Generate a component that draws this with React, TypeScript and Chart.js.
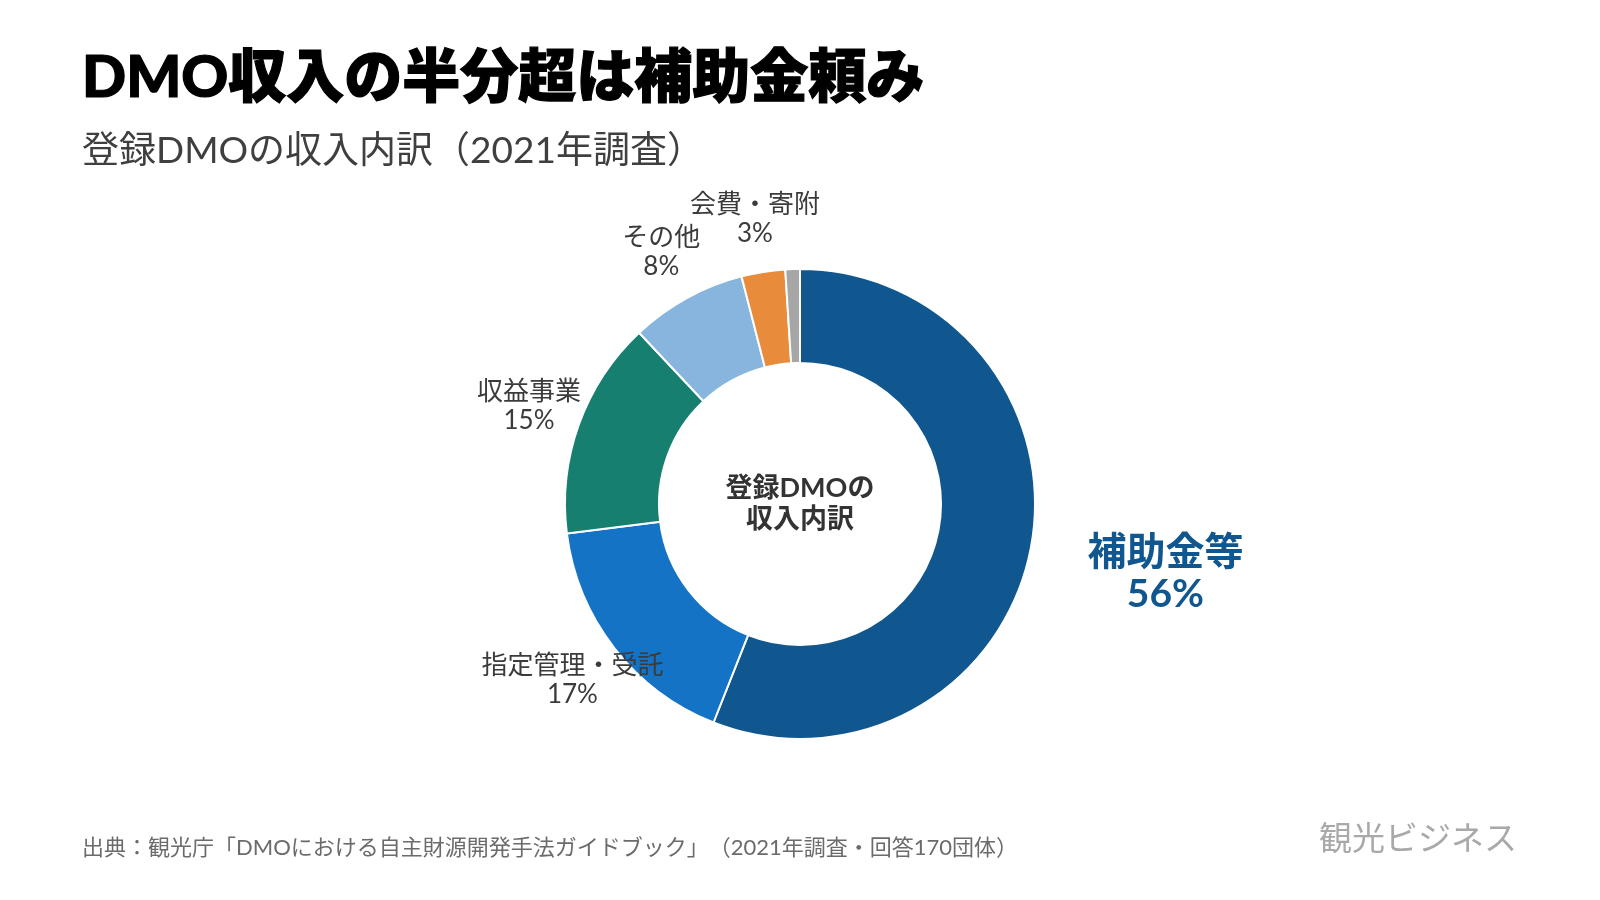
import { useEffect, useRef } from 'react';
import { Chart, registerables } from 'chart.js';

Chart.register(...registerables);

// Revenue categories of registered DMOs and their share of total income (%)
const categories = ['補助金等', '指定管理・受託', '収益事業', 'その他', '会費・寄附', '特定財源'];
const shares = [56, 17, 15, 8, 3, 1];
const sliceColors = ['#10568f', '#1473c4', '#177f6f', '#87b5de', '#e88b3b', '#a6a6a6'];
// Categories drawn without an outside label
const unlabeled = ['特定財源'];
const centerLines = ['登録DMOの', '収入内訳'];

const titleText = 'DMO収入の半分超は補助金頼み';
const subtitleText = '登録DMOの収入内訳（2021年調査）';
const sourceText = '出典：観光庁「DMOにおける自主財源開発手法ガイドブック」（2021年調査・回答170団体）';
const brandText = '観光ビジネス';

const FONT = 'Lato, "Noto Sans CJK JP", sans-serif';

const sliceLabels = {
  id: 'sliceLabels',
  afterDatasetsDraw(chart: any) {
    const ctx = chart.ctx as CanvasRenderingContext2D;
    const meta = chart.getDatasetMeta(0);
    const values = chart.data.datasets[0].data as number[];
    const names = chart.data.labels as string[];
    let cx0 = 0;
    let cy0 = 0;
    meta.data.forEach((arc: any, i: number) => {
      const { x, y, startAngle, endAngle, outerRadius } = arc.getProps(
        ['x', 'y', 'startAngle', 'endAngle', 'outerRadius'],
        true
      );
      cx0 = x;
      cy0 = y;
      const name = names[i];
      if (unlabeled.includes(name)) return;
      const mid = (startAngle + endAngle) / 2;
      const lead = i === 0;
      const dist = outerRadius + (lead ? 137 : 53);
      const lx = x + Math.cos(mid) * dist;
      const ly = y + Math.sin(mid) * dist;
      const gap = lead ? 42 : 29;
      ctx.save();
      ctx.textAlign = 'center';
      ctx.textBaseline = 'middle';
      ctx.fillStyle = lead ? sliceColors[0] : '#3b3b3b';
      ctx.font = lead ? `bold 39px ${FONT}` : `26px ${FONT}`;
      ctx.fillText(name, lx, ly - gap / 2);
      ctx.fillText(`${values[i]}%`, lx, ly + gap / 2);
      ctx.restore();
    });

    // caption inside the ring
    ctx.save();
    ctx.textAlign = 'center';
    ctx.textBaseline = 'middle';
    ctx.fillStyle = '#333333';
    ctx.font = `bold 27px ${FONT}`;
    const lh = 31;
    const top = cy0 - ((centerLines.length - 1) * lh) / 2;
    centerLines.forEach((line, k) => ctx.fillText(line, cx0, top + k * lh));
    ctx.restore();
  },
};

function DonutChart() {
  const ref = useRef<HTMLCanvasElement | null>(null);

  useEffect(() => {
    if (!ref.current) return;
    const chart = new Chart(ref.current, {
      type: 'doughnut',
      data: {
        labels: categories,
        datasets: [
          {
            data: shares,
            backgroundColor: sliceColors,
            borderColor: '#ffffff',
            borderWidth: 2,
          },
        ],
      },
      options: {
        responsive: false,
        animation: false,
        cutout: '60%',
        layout: { padding: { left: 564, right: 564, top: 268, bottom: 160 } },
        plugins: {
          legend: { display: false },
          tooltip: { enabled: false },
          title: { display: false },
        },
      },
      plugins: [sliceLabels],
    });
    return () => chart.destroy();
  }, []);

  return (
    <canvas
      ref={ref}
      width={1600}
      height={900}
      style={{ position: 'absolute', left: 0, top: 0, width: 1600, height: 900 }}
    />
  );
}

const textBase: any = {
  position: 'absolute',
  whiteSpace: 'nowrap',
  lineHeight: 1,
  fontFamily: FONT,
  margin: 0,
  textSpacingTrim: 'space-all',
};

export default function App() {
  return (
    <div
      style={{
        position: 'absolute',
        left: 0,
        top: 0,
        width: 1600,
        height: 900,
        background: '#ffffff',
        overflow: 'hidden',
      }}
    >
      <DonutChart />
      <div
        style={{
          ...textBase,
          left: 82,
          top: 46,
          fontSize: 58,
          fontWeight: 900,
          color: '#000000',
          WebkitTextStroke: '1.2px #000000',
        }}
      >
        {titleText}
      </div>
      <div style={{ ...textBase, left: 82, top: 130, fontSize: 37, fontWeight: 400, color: '#3f3f3f' }}>
        {subtitleText}
      </div>
      <div style={{ ...textBase, left: 82, top: 836, fontSize: 22, fontWeight: 400, color: '#6b6b6b' }}>
        {sourceText}
      </div>
      <div style={{ ...textBase, left: 1319, top: 821, fontSize: 33, fontWeight: 400, color: '#a9a9a9' }}>
        {brandText}
      </div>
    </div>
  );
}
